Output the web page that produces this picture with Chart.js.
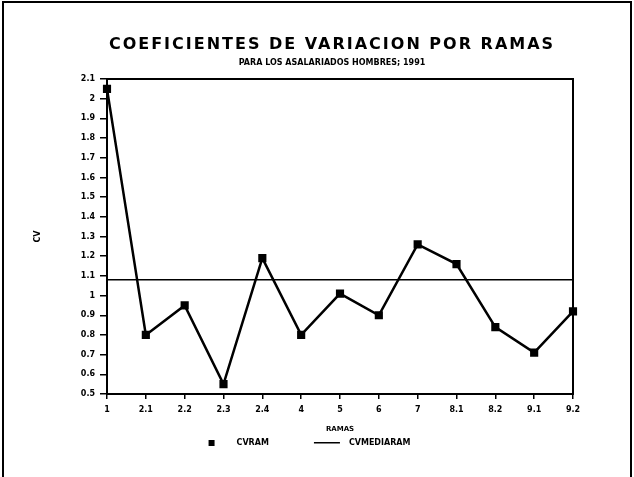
<!DOCTYPE html>
<html>
<head>
<meta charset="utf-8">
<script src="https://cdn.jsdelivr.net/npm/chart.js@4/dist/chart.umd.min.js"></script>
<style>
html, body { margin: 0; padding: 0; background: #fff; }
#wrap { position: relative; width: 634px; height: 477px; }
#frame { position: absolute; left: 2px; top: 1px; right: 2px; bottom: 0; border: 2px solid #000; border-bottom: none; pointer-events: none; }
</style>
</head>
<body>
<div id="wrap">
  <canvas id="myChart" width="634" height="477"></canvas>
  <div id="frame"></div>
</div>
<script>
// Datos
const ramas = ['1', '2.1', '2.2', '2.3', '2.4', '4', '5', '6', '7', '8.1', '8.2', '9.1', '9.2'];
const cvRama = [2.05, 0.80, 0.95, 0.55, 1.19, 0.80, 1.01, 0.90, 1.26, 1.16, 0.84, 0.71, 0.92];
const cvMediaRama = [1.08, 1.08, 1.08, 1.08, 1.08, 1.08, 1.08, 1.08, 1.08, 1.08, 1.08, 1.08, 1.08];
const ejeY = { min: 0.5, max: 2.1, paso: 0.1 };

const titulo = 'COEFICIENTES DE VARIACION POR RAMAS';
const subtitulo = 'PARA LOS ASALARIADOS HOMBRES; 1991';
const fuente = '"DejaVu Sans", sans-serif';

// Marcas de la leyenda (cuadro y línea)
function marca(tipo) {
    const c = document.createElement('canvas');
    c.width = 70; c.height = 8;
    const g = c.getContext('2d');
    g.fillStyle = '#000';
    if (tipo === 'cuadro') g.fillRect(46, 1, 6, 6);
    else g.fillRect(39, 3, 26, 1.5);
    return c;
}
const marcaCuadro = marca('cuadro');
const marcaLinea = marca('linea');

const tituloPlugin = {
    id: 'titulo',
    afterDraw(chart) {
        const c = chart.ctx;
        c.save();
        c.fillStyle = '#000';
        c.textAlign = 'center';
        c.textBaseline = 'middle';
        c.font = 'bold 16px ' + fuente;
        c.letterSpacing = '2px';
        c.fillText(titulo, 332, 45);
        c.letterSpacing = '0px';
        c.font = 'bold 8px ' + fuente;
        c.fillText(subtitulo, 332, 63);
        c.restore();
    }
};

// Marco del área de trazado
const marcoPlugin = {
    id: 'marco',
    beforeDatasetsDraw(chart) {
        const a = chart.chartArea;
        const c = chart.ctx;
        c.save();
        c.strokeStyle = '#000';
        c.lineWidth = 2;
        c.strokeRect(a.left, a.top, a.right - a.left, a.bottom - a.top);
        c.restore();
    }
};

const ctx = document.getElementById('myChart').getContext('2d');

new Chart(ctx, {
    type: 'line',
    data: {
        labels: ramas,
        datasets: [{
            label: 'CVRAM',
            data: cvRama,
            borderColor: '#000',
            backgroundColor: '#000',
            borderWidth: 2.5,
            pointStyle: 'rect',
            pointRadius: 4,
            tension: 0
        }, {
            label: 'CVMEDIARAM',
            data: cvMediaRama,
            borderColor: '#000',
            backgroundColor: '#000',
            borderWidth: 1.5,
            pointRadius: 0,
            tension: 0
        }]
    },
    options: {
        responsive: false,
        animation: false,
        layout: { padding: { top: 79, left: 0, right: 61, bottom: 20 } },
        plugins: {
            tooltip: { enabled: false },
            legend: {
                position: 'bottom',
                labels: {
                    usePointStyle: true,
                    pointStyleWidth: 70,
                    padding: 6,
                    color: '#000',
                    font: { family: fuente, size: 8, weight: 'bold' },
                    generateLabels(chart) {
                        const items = Chart.defaults.plugins.legend.labels.generateLabels(chart);
                        items[0].pointStyle = marcaCuadro;
                        items[1].pointStyle = marcaLinea;
                        return items;
                    }
                }
            }
        },
        scales: {
            x: {
                offset: false,
                afterFit(scale) { scale.height = 39; },
                border: { color: '#000', width: 2 },
                grid: { drawOnChartArea: false, color: '#000', lineWidth: 1.5, tickLength: 5 },
                ticks: {
                    color: '#000', padding: 6, maxRotation: 0, autoSkip: false,
                    font: { family: fuente, size: 8, weight: 'bold' }
                },
                title: {
                    display: true, text: 'RAMAS', color: '#000',
                    padding: { top: 0, bottom: 0 },
                    font: { family: fuente, size: 7, weight: 'bold' }
                }
            },
            y: {
                min: ejeY.min,
                max: ejeY.max,
                afterFit(scale) { scale.width = 107; },
                border: { color: '#000', width: 2 },
                grid: { drawOnChartArea: false, color: '#000', lineWidth: 1.5, tickLength: 7 },
                ticks: {
                    stepSize: ejeY.paso,
                    color: '#000', padding: 5,
                    font: { family: fuente, size: 8, weight: 'bold' },
                    callback: v => String(Number(v.toFixed(1)))
                },
                title: {
                    display: true, text: 'CV', color: '#000',
                    padding: { top: 33, bottom: 0 },
                    font: { family: fuente, size: 8, weight: 'bold' }
                }
            }
        }
    },
    plugins: [tituloPlugin, marcoPlugin]
});
</script>
</body>
</html>
